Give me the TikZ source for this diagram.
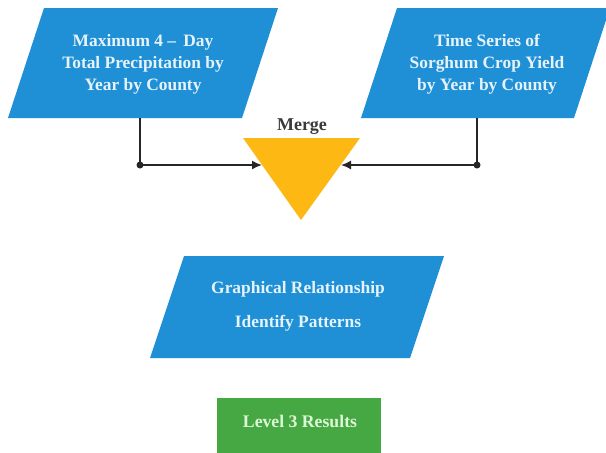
\documentclass[tikz,border=0pt]{standalone}
\usepackage{fontspec}
\setmainfont{Liberation Serif}
\usetikzlibrary{arrows.meta}
\definecolor{boxblue}{HTML}{1F8FD6}
\definecolor{mergeorange}{HTML}{FDB813}
\definecolor{resgreen}{HTML}{46A843}
\definecolor{bluetext}{HTML}{E6F3FB}
\definecolor{greentext}{HTML}{DDF6D6}
\definecolor{labelgray}{HTML}{3A3A3A}
\tikzset{
  boxtext/.style={align=center, text=bluetext, font=\bfseries\fontsize{17.4}{22}\selectfont},
  conn/.style={draw=black!85, line width=1.6pt},
  arr/.style={conn, -{Latex[length=10pt,width=9pt]}},
  dotmark/.style={circle, fill=black!85, inner sep=0pt, minimum size=7pt}
}
\begin{document}
\begin{tikzpicture}[x=1pt,y=-1pt]
\useasboundingbox (0,0) rectangle (606,453);
\fill[white] (0,0) rectangle (606,453);
% shapes
\fill[boxblue] (44,8) -- (278,8) -- (242,118) -- (8,118) -- cycle;
\fill[boxblue] (397,8) -- (610,8) -- (574,118) -- (361,118) -- cycle;
\fill[boxblue] (184,256) -- (444,256) -- (410,358) -- (150,358) -- cycle;
\fill[resgreen] (217,398) rectangle (381,453);
\fill[mergeorange] (243,138) -- (360,138) -- (301,220) -- cycle;
% text nodes
\node[boxtext] (precip) at (143,64) {Maximum 4 -- \,Day\\Total Precipitation by\\Year by County};
\node[boxtext] (yield) at (487,64) {Time Series of\\Sorghum Crop Yield\\by Year by County};
\node[boxtext, font=\bfseries\fontsize{17.4}{34}\selectfont] (graph) at (298,306) {Graphical Relationship\\Identify Patterns};
\node[text=greentext, font=\bfseries\fontsize{17.7}{20}\selectfont] (results) at (300,421) {Level 3 Results};
\node[text=labelgray, font=\bfseries\fontsize{18}{20}\selectfont] (mergelbl) at (302,127) {Merge};
\coordinate (merge) at (301,165);
% connector points
\coordinate (pb) at (140,118);
\coordinate (pc) at (140,165);
\coordinate (ml) at (262,165);
\coordinate (yb) at (477,118);
\coordinate (yc) at (477,165);
\coordinate (mr) at (341,165);
\draw[conn] (pb) -- (pc);
\draw[arr] (pc) -- (ml);
\draw[conn] (yb) -- (yc);
\draw[arr] (yc) -- (mr);
\node[dotmark] at (pc) {};
\node[dotmark] at (yc) {};
\end{tikzpicture}
\end{document}
